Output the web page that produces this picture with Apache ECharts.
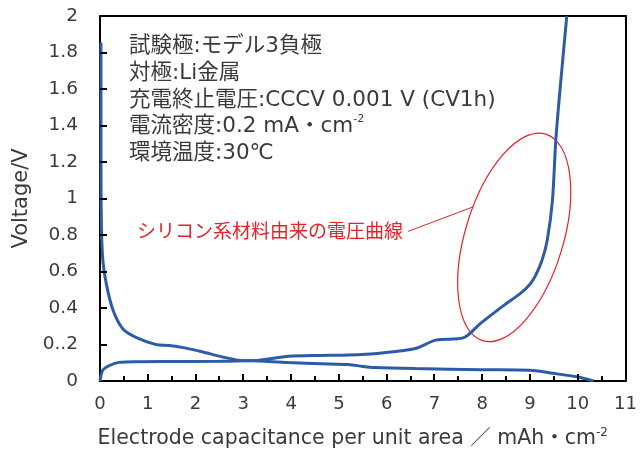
<!DOCTYPE html>
<html>
<head>
<meta charset="utf-8">
<script src="https://cdn.jsdelivr.net/npm/echarts@6/dist/echarts.min.js"></script>
<style>
  html, body { margin: 0; padding: 0; background: #fff; }
  #chart { width: 640px; height: 457px; }
</style>
</head>
<body>
<div id="chart"></div>
<script>
// Delithiation (charge) curve: capacity [mAh/cm2] and voltage [V]
const chargeCapacity = [0, 0.06, 0.2, 0.4, 0.8, 1.5, 2.5, 3.3, 3.95, 4.6, 5.2, 5.9, 6.6, 7.03, 7.6, 7.97, 8.46, 8.8, 9.0, 9.12, 9.25, 9.36, 9.47, 9.54, 9.64, 9.77];
const chargeVoltage  = [0, 0.06, 0.085, 0.102, 0.106, 0.107, 0.108, 0.113, 0.135, 0.14, 0.142, 0.154, 0.178, 0.224, 0.236, 0.317, 0.416, 0.48, 0.53, 0.58, 0.66, 0.77, 0.99, 1.32, 1.63, 2.0];

// Lithiation (discharge) curve
const dischargeCapacity = [0.02, 0.02, 0.03, 0.06, 0.13, 0.27, 0.48, 0.8, 1.17, 1.45, 1.8, 2.14, 2.56, 2.9, 3.32, 3.95, 4.64, 5.2, 5.5, 5.75, 6.6, 8.0, 9.0, 9.43, 10.0, 10.33];
const dischargeVoltage  = [1.855, 1.3, 0.85, 0.66, 0.535, 0.39, 0.285, 0.233, 0.2, 0.195, 0.18, 0.16, 0.132, 0.114, 0.11, 0.101, 0.095, 0.09, 0.08, 0.074, 0.068, 0.062, 0.059, 0.044, 0.022, 0];

// Axis ranges, tick marks and tick labels
const xRange = [0, 11];
const yRange = [0, 2];
const xTickValues = [0.5, 1, 1.5, 2, 2.5, 3, 3.5, 4, 4.5, 5, 5.5, 6, 6.5, 7, 7.5, 8, 8.5, 9, 9.5, 10, 10.5];
const yTickValues = [0.2, 0.4, 0.6, 0.8, 1.0, 1.2, 1.4, 1.6, 1.8];
const yTickLabels = {0: '0', 0.2: '0..2', 0.4: '0.4', 0.6: '0.6', 0.8: '0.8', 1: '1', 1.2: '1.2', 1.4: '1.4', 1.6: '1.6', 1.8: '1.8', 2: '2'};

// Test conditions block and callout
const conditionLines = [
  '試験極:モデル3負極',
  '対極:Li金属',
  '充電終止電圧:CCCV 0.001 V (CV1h)',
  '電流密度:0.2 mA・cm{sup|-2}',
  '環境温度:30℃'
];
const calloutText = 'シリコン系材料由来の電圧曲線';
const calloutEllipse = { center: [8.67, 0.787], rx: 49, ry: 108, tiltDeg: -17 };

const FONT = '"DejaVu Sans", "Noto Sans CJK JP", sans-serif';
const TEXT_COLOR = '#3a3a3a';
const LINE_COLOR = '#2c5ca8';
const RED = '#e8202a';
const MAJOR_TICK = 7;
const MINOR_TICK = 5;

const zip = (xs, ys) => xs.map((x, i) => [x, ys[i]]);

const chart = echarts.init(document.getElementById('chart'), null, { renderer: 'canvas' });

const frameLine = () => ({ show: true, onZero: false, lineStyle: { color: '#000', width: 2 } });

const option = {
  animation: false,
  grid: { left: 100, right: 11, top: 16, bottom: 76 },
  xAxis: [
    {
      type: 'value',
      position: 'bottom',
      min: xRange[0], max: xRange[1], interval: 1,
      name: 'Electrode capacitance per unit area ／ mAh・cm{sup|-2}',
      nameLocation: 'middle',
      nameGap: 46,
      nameTextStyle: {
        fontFamily: FONT, fontSize: 20.5, color: TEXT_COLOR, padding: [0, 20, 0, 0],
        rich: { sup: { fontFamily: FONT, fontSize: 12, color: TEXT_COLOR, verticalAlign: 'top', padding: [0, 0, 11, 0] } }
      },
      axisLine: frameLine(),
      axisTick: { show: false },
      axisLabel: { fontFamily: FONT, fontSize: 18, color: TEXT_COLOR, margin: 14 },
      splitLine: { show: false }
    },
    {
      type: 'value',
      position: 'top',
      min: xRange[0], max: xRange[1],
      axisLine: frameLine(),
      axisTick: { show: false },
      axisLabel: { show: false },
      splitLine: { show: false }
    }
  ],
  yAxis: [
    {
      type: 'value',
      position: 'left',
      min: yRange[0], max: yRange[1], interval: 0.2,
      name: 'Voltage/V',
      nameLocation: 'middle',
      nameGap: 68,
      nameTextStyle: { fontFamily: FONT, fontSize: 21, color: TEXT_COLOR },
      axisLine: frameLine(),
      axisTick: { show: false },
      axisLabel: {
        fontFamily: FONT, fontSize: 18.5, color: TEXT_COLOR, margin: 22,
        formatter: v => yTickLabels[Math.round(v * 10) / 10] ?? String(v)
      },
      splitLine: { show: false }
    },
    {
      type: 'value',
      position: 'right',
      min: yRange[0], max: yRange[1],
      axisLine: frameLine(),
      axisTick: { show: false },
      axisLabel: { show: false },
      splitLine: { show: false }
    }
  ],
  series: [
    {
      name: 'discharge',
      type: 'line',
      xAxisIndex: 0, yAxisIndex: 0,
      data: zip(dischargeCapacity, dischargeVoltage),
      showSymbol: false,
      smooth: 0.3,
      lineStyle: { color: LINE_COLOR, width: 3 }
    },
    {
      name: 'charge',
      type: 'line',
      xAxisIndex: 0, yAxisIndex: 0,
      data: zip(chargeCapacity, chargeVoltage),
      showSymbol: false,
      smooth: 0.3,
      lineStyle: { color: LINE_COLOR, width: 3 }
    }
  ]
};

chart.setOption(option);

const toPx = pt => chart.convertToPixel({ gridIndex: 0 }, pt);

// Inward tick marks, positioned through the axis scales
const tickStyle = { stroke: '#000', lineWidth: 2 };
const xTickMarks = xTickValues.map(v => {
  const p = toPx([v, yRange[0]]);
  const x = Math.round(p[0]);
  const len = Number.isInteger(v) ? MAJOR_TICK : MINOR_TICK;
  return { type: 'line', z: 50, silent: true, shape: { x1: x, y1: p[1], x2: x, y2: p[1] - len }, style: tickStyle };
});
const yTickMarks = yTickValues.map(v => {
  const p = toPx([xRange[0], v]);
  const y = Math.round(p[1]);
  return { type: 'line', z: 50, silent: true, shape: { x1: p[0], y1: y, x2: p[0] + MAJOR_TICK, y2: y }, style: tickStyle };
});

// Annotations placed from data coordinates
const c = toPx(calloutEllipse.center);
const lineStart = toPx([6.45, 0.82]);
const lineEnd = toPx([7.82, 0.955]);

chart.setOption({
  graphic: [
    ...xTickMarks,
    ...yTickMarks,
    {
      type: 'text',
      left: 129, top: 33,
      style: {
        text: conditionLines.join('\n'),
        fontFamily: FONT, fontSize: 21.5, lineHeight: 26.8,
        fill: TEXT_COLOR,
        rich: { sup: { fontFamily: FONT, fontSize: 11, fill: TEXT_COLOR, verticalAlign: 'top', lineHeight: 20 } }
      }
    },
    {
      type: 'text',
      left: 137, top: 221,
      style: { text: calloutText, fontFamily: '"Noto Sans CJK JP", sans-serif', fontSize: 19, fill: RED }
    },
    {
      type: 'line',
      shape: { x1: lineStart[0], y1: lineStart[1], x2: lineEnd[0], y2: lineEnd[1] },
      style: { stroke: RED, lineWidth: 1 }
    },
    {
      type: 'ellipse',
      x: c[0], y: c[1],
      rotation: calloutEllipse.tiltDeg * Math.PI / 180,
      shape: { cx: 0, cy: 0, rx: calloutEllipse.rx, ry: calloutEllipse.ry },
      style: { stroke: RED, fill: 'none', lineWidth: 1.2 }
    }
  ]
});
</script>
</body>
</html>
